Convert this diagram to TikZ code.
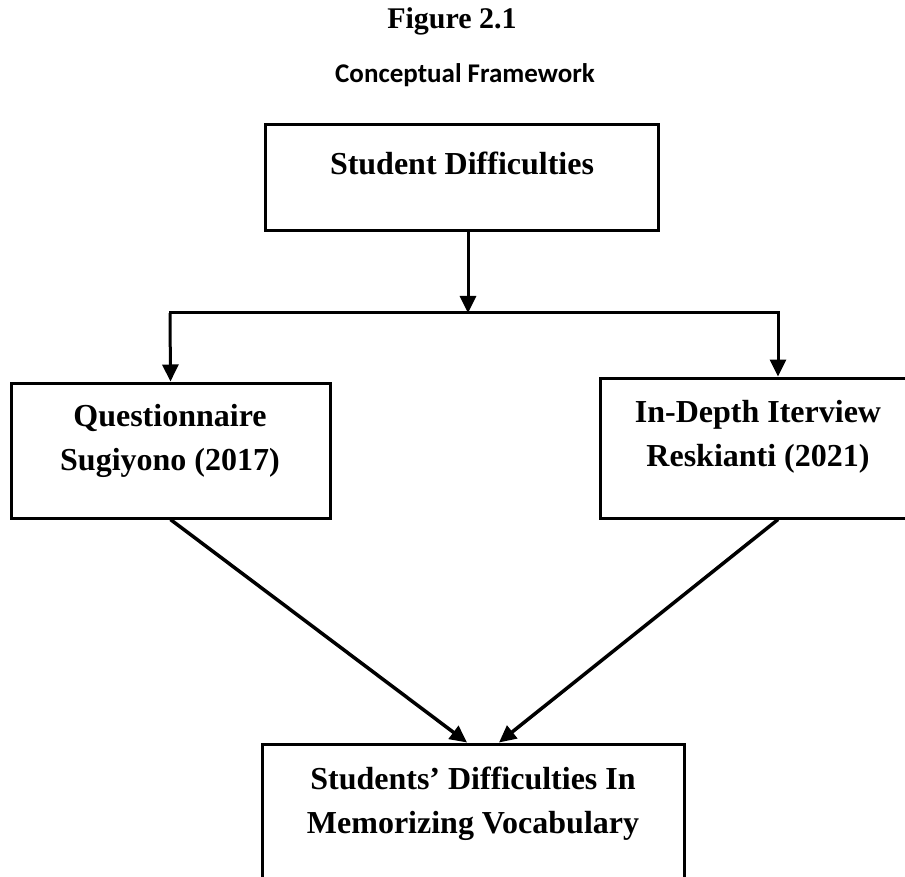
\documentclass[tikz,border=0pt]{standalone}
\usepackage{fontspec}
\setmainfont{Liberation Serif}
\newfontfamily\calibri{Carlito}
\usetikzlibrary{arrows.meta,positioning}

\begin{document}
\begin{tikzpicture}[x=1pt,y=-1pt,
    box/.style={draw, line width=3pt, inner sep=0pt},
    lbl/.style={font=\fontsize{32}{44}\selectfont\bfseries, align=center, inner sep=0pt},
    link/.style={line width=3pt, -{Triangle[length=17pt,width=16pt]}}]
    \useasboundingbox (0,0) rectangle (905,877);
    \clip (0,0) rectangle (905,877);
    % titles
    \node[font=\fontsize{30}{36}\selectfont\bfseries, anchor=base] (fig) at (452,29) {Figure 2.1};
    \node[font=\calibri\fontsize{27}{32}\selectfont\bfseries, anchor=base] (title) at (465,83) {Conceptual Framework};
    % boxes
    \node[box, minimum width=393, minimum height=106] (diff) at (461.5,178) {};
    \node[lbl] (difftxt) at (462,163) {Student Difficulties};
    \node[box, minimum width=319, minimum height=135] (quest) at (170.5,450.5) {};
    \node[lbl] (questtxt) at (170,441) {Questionnaire\\Sugiyono (2017)};
    \node[box, minimum width=316, minimum height=140] (intv) at (758,448) {};
    \node[lbl] (intvtxt) at (758,437) {In-Depth Iterview\\Reskianti (2021)};
    \node[box, minimum width=422, minimum height=156] (result) at (473,822) {};
    \node[lbl] (resulttxt) at (473,804) {Students’ Difficulties In\\Memorizing Vocabulary};
    % connectors
    \coordinate (split) at (468,313);
    \coordinate (lsplit) at (170,313);
    \coordinate (rsplit) at (778,313);
    \draw[link] (diff.south -| split) -- (split);
    \draw[line width=3pt, line cap=rect] (lsplit) -- (rsplit);
    \draw[link] (lsplit) -- (quest.north);
    \draw[link] (rsplit) -- (intv.north -| rsplit);
    \draw[link, line width=3.5pt] (quest.south) -- ([xshift=-6pt]result.north);
    \draw[link, line width=3.5pt] (intv.south -| rsplit) -- ([xshift=26pt]result.north);
\end{tikzpicture}
\end{document}
